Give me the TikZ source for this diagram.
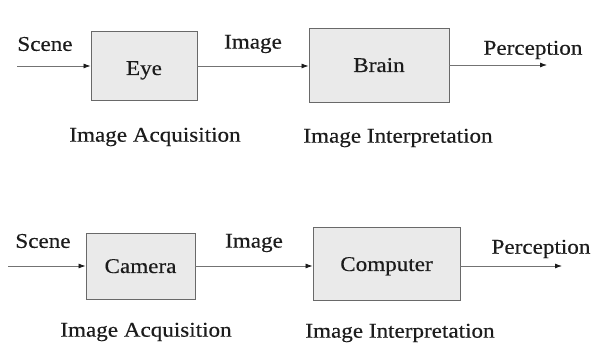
\documentclass[tikz,border=0pt]{standalone}
\usepackage{fontspec}
\setmainfont[FakeStretch=1.1, FakeBold=0.4]{Liberation Serif}
\usetikzlibrary{arrows.meta}
\definecolor{boxfill}{RGB}{234,234,234}
\definecolor{boxline}{RGB}{105,105,105}
\definecolor{wire}{RGB}{115,115,115}
\definecolor{ink}{RGB}{28,28,28}
\tikzset{
  stage/.style={draw=boxline, fill=boxfill, line width=0.9pt, inner sep=0pt,
                text height=14pt, text depth=0pt,
                font=\fontsize{21}{24}\selectfont, text=ink},
  lbl/.style={font=\fontsize{21}{24}\selectfont, text=ink, inner sep=0pt},
  flow/.style={draw=wire, line width=0.8pt,
               -{Latex[length=7pt,width=5pt,color=ink]}}
}
\begin{document}
\begin{tikzpicture}[x=1pt,y=-1pt]
  \useasboundingbox (0,0) rectangle (599,352);

  % ---- human vision chain ----
  \node[stage, minimum width=106pt, minimum height=69pt] (eye) at (144,66) {};
  \node[lbl, text height=14pt, text depth=0pt] (eyetxt) at ([yshift=-2pt]eye.center) {Eye};
  \node[stage, minimum width=140pt, minimum height=74pt] (brain) at (379,65) {Brain};
  \coordinate (s1) at (17,66);
  \coordinate (p1) at (547,65);
  \draw[flow] (s1) -- (eye.west);
  \draw[flow] (eye.east) -- (eye.east -| brain.west);
  \draw[flow] (brain.east) -- (p1);
  \node[lbl] (scene1) at (45,44) {Scene};
  \node[lbl] (image1) at (253,44) {Image};
  \node[lbl] (perc1) at (533,50) {Perception};
  \node[lbl] (acq1) at (155,137) {Image Acquisition};
  \node[lbl] (int1) at (398,138) {Image Interpretation};

  % ---- computer vision chain ----
  \node[stage, minimum width=109pt, minimum height=66pt] (camera) at (140.5,266) {Camera};
  \node[stage, minimum width=147pt, minimum height=73pt] (computer) at (386.5,264) {Computer};
  \coordinate (s2) at (8,266);
  \coordinate (p2) at (562,266);
  \draw[flow] (s2) -- (camera.west);
  \draw[flow] (camera.east) -- (camera.east -| computer.west);
  \draw[flow] (computer.east |- p2) -- (p2);
  \node[lbl] (scene2) at (43,241) {Scene};
  \node[lbl] (image2) at (254,243) {Image};
  \node[lbl] (perc2) at (541,249) {Perception};
  \node[lbl] (acq2) at (146,332) {Image Acquisition};
  \node[lbl] (int2) at (400,333) {Image Interpretation};
\end{tikzpicture}
\end{document}
